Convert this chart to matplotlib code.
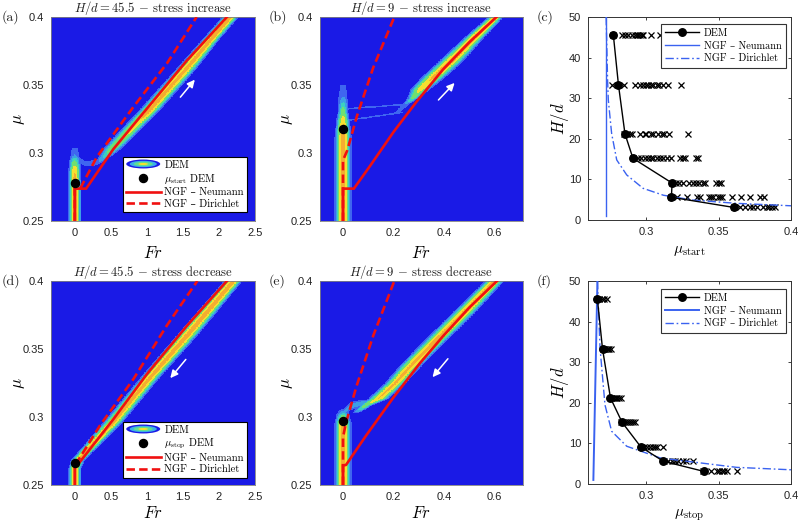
import numpy as np
import matplotlib
matplotlib.use("Agg")
import matplotlib.pyplot as plt
from matplotlib.colors import ListedColormap, BoundaryNorm
from matplotlib.legend_handler import HandlerBase
from matplotlib.lines import Line2D
from matplotlib.patches import Ellipse

plt.rcParams['mathtext.fontset'] = 'cm'
plt.rcParams['font.family'] = ['Liberation Sans', 'DejaVu Sans']
SERIF = ['cmr10', 'DejaVu Serif']
W, H = 800, 523

# ---- density colours
level_edges = [0, 0.07, 0.14, 0.24, 0.36, 0.6, 0.85, 1.1]
level_colors = ['#1a1ae6', '#3f66f0', '#3c9fe6', '#3cd0c0', '#70e070', '#f5e030', '#f5ac30']

# ---- panel (a), H/d = 45.5 up
a_neu_fr = [0, 0, 0.157, 0.537, 1.0, 1.555, 2.11]
a_neu_mu = [0.25, 0.2738, 0.2738, 0.303, 0.3326, 0.368, 0.4]
a_dir_fr = [0, 0, 0.074, 0.305, 0.815, 1.28, 1.69]
a_dir_mu = [0.25, 0.2738, 0.2738, 0.297, 0.334, 0.366, 0.4]
a_band_mu = [0.25, 0.28, 0.288, 0.294, 0.298, 0.304]
a_band_amp = [1.0, 1.0, 0.8, 0.4, 0.15, 0.1]
a_band_w = [0.056, 0.056, 0.056, 0.058, 0.065, 0.065]
a_ridge_mu = [0.293, 0.298, 0.303, 0.331, 0.362, 0.383, 0.4]
a_ridge_fr = [0.33, 0.43, 0.52, 1.03, 1.55, 1.88, 2.16]
a_ridge_w = [0.05, 0.075, 0.092, 0.092, 0.088, 0.075, 0.072]
a_ridge_amp = [0.12, 0.3, 0.5, 0.95, 0.95, 1.0, 1.0]
a_link_fr = [0.03, 0.15, 0.3, 0.42]
a_link_mu = [0.296, 0.292, 0.293, 0.296]
a_point = (0.0, 0.278)

# ---- panel (b), H/d = 9 up
b_neu_fr = [0, 0, 0.043, 0.107, 0.2, 0.29, 0.396, 0.5, 0.607]
b_neu_mu = [0.25, 0.2738, 0.2738, 0.2905, 0.3155, 0.3375, 0.3615, 0.3815, 0.4]
b_dir_fr = [0, 0, 0.017, 0.054, 0.12, 0.203]
b_dir_mu = [0.25, 0.2946, 0.302, 0.3265, 0.363, 0.4]
b_band_mu = [0.25, 0.31, 0.322, 0.33, 0.337, 0.342, 0.35]
b_band_amp = [1.0, 1.0, 0.85, 0.5, 0.25, 0.12, 0.1]
b_band_w = [0.021, 0.021, 0.018, 0.015, 0.017, 0.021, 0.02]
b_ridge_mu = [0.329, 0.336, 0.34, 0.347, 0.356, 0.367, 0.385, 0.399, 0.405]
b_ridge_fr = [0.21, 0.25, 0.275, 0.307, 0.36, 0.425, 0.52, 0.60, 0.64]
b_ridge_w = [0.015, 0.015, 0.016, 0.026, 0.03, 0.03, 0.025, 0.02, 0.02]
b_ridge_amp = [0.1, 0.14, 0.4, 0.75, 0.9, 1.0, 0.95, 0.9, 0.9]
b_link1_fr = [0.017, 0.25]
b_link1_mu = [0.3326, 0.3358]
b_link2_fr = [0.017, 0.238]
b_link2_mu = [0.324, 0.330]
b_point = (0.0, 0.318)

# ---- panel (d), H/d = 45.5 down
d_neu_fr = [0, 0, 0.05, 0.537, 1.0, 1.555, 2.11]
d_neu_mu = [0.25, 0.2655, 0.2655, 0.2985, 0.3315, 0.367, 0.4]
d_dir_fr = [0, 0.03, 0.35, 0.815, 1.28, 1.70]
d_dir_mu = [0.2655, 0.2667, 0.2938, 0.328, 0.3675, 0.4]
d_ridge_mu = [0.25, 0.262, 0.268, 0.296, 0.328, 0.36, 0.4]
d_ridge_fr = [0, 0, 0.04, 0.53, 1.03, 1.56, 2.2]
d_ridge_w = [0.056, 0.056, 0.06, 0.085, 0.085, 0.09, 0.08]
d_ridge_amp = [1.0, 1.0, 0.95, 0.95, 0.95, 1.0, 1.0]
d_point = (0.0, 0.2665)

# ---- panel (e), H/d = 9 down
e_neu_fr = [0, 0, 0.012, 0.093, 0.2, 0.304, 0.396, 0.5, 0.609]
e_neu_mu = [0.25, 0.2643, 0.2648, 0.2868, 0.3145, 0.3395, 0.3595, 0.3805, 0.4]
e_dir_fr = [0, 0, 0.012, 0.054, 0.12, 0.203]
e_dir_mu = [0.25, 0.285, 0.296, 0.323, 0.36, 0.4]
e_band_mu = [0.25, 0.295, 0.299, 0.303, 0.307]
e_band_amp = [1.0, 0.95, 0.6, 0.22, 0.0]
e_band_w = [0.021, 0.021, 0.02, 0.021, 0.02]
e_ridge_mu = [0.303, 0.3085, 0.3134, 0.3245, 0.338, 0.355, 0.377, 0.399, 0.405]
e_ridge_fr = [0.05, 0.09, 0.14, 0.205, 0.27, 0.36, 0.48, 0.595, 0.63]
e_ridge_w = [0.016, 0.018, 0.026, 0.026, 0.028, 0.028, 0.028, 0.024, 0.024]
e_ridge_amp = [0.12, 0.5, 0.85, 0.9, 0.9, 0.95, 0.95, 0.95, 0.95]
e_link_fr = [0.005, 0.03, 0.06, 0.1]
e_link_mu = [0.3035, 0.308, 0.3095, 0.31]
e_point = (-0.002, 0.2967)

# ---- panel (c), mu_start vs H/d
heights = [45.5, 33.3, 21.2, 15.2, 9.1, 5.6, 3.1]
c_dem = [0.2775, 0.281, 0.2855, 0.291, 0.318, 0.3175, 0.3605]
c_neu_mu = [0.2725, 0.2725]
c_neu_h = [1, 50]
c_dir_mu = [0.2725, 0.2735, 0.274, 0.2763, 0.2798, 0.2867, 0.298, 0.312, 0.3326, 0.3625, 0.4]
c_dir_h = [50, 34.5, 29.6, 21.3, 14.8, 11.1, 7.8, 6.1, 4.9, 4.1, 3.5]
c_runs = [
    [0.2775, 0.2833, 0.2856, 0.2879, 0.2901, 0.2924, 0.2936, 0.2947, 0.2959, 0.297, 0.2982, 0.3032, 0.3097],
    [0.2764, 0.281, 0.2851, 0.2924, 0.2959, 0.2982, 0.3, 0.3016, 0.3032, 0.3051, 0.3074, 0.3092, 0.312, 0.3154, 0.3239],
    [0.2851, 0.287, 0.2893, 0.2905, 0.2958, 0.299, 0.3, 0.3032, 0.3051, 0.3085, 0.3108, 0.3124, 0.3161, 0.3290],
    [0.291, 0.2945, 0.2968, 0.2991, 0.3014, 0.3037, 0.3051, 0.3074, 0.3097, 0.312, 0.3143, 0.317, 0.3235, 0.3253, 0.3269, 0.3345, 0.3361],
    [0.318, 0.3207, 0.323, 0.3257, 0.3299, 0.3322, 0.3345, 0.3368, 0.3391, 0.341, 0.3483, 0.3506, 0.3517],
    [0.3175, 0.3214, 0.3283, 0.3352, 0.3375, 0.3432, 0.3448, 0.3462, 0.3495, 0.3513, 0.3524, 0.3591, 0.3653, 0.3718, 0.3786, 0.3814],
    [0.3605, 0.3648, 0.3683, 0.3718, 0.3741, 0.3768, 0.381, 0.3832, 0.3851, 0.3867, 0.389],
]

# ---- panel (f), mu_stop vs H/d
f_dem = [0.2665, 0.27, 0.2755, 0.2835, 0.2965, 0.312, 0.34]
f_neu_mu = [0.2637, 0.2665]
f_neu_h = [1, 50]
f_dir_mu = [0.2665, 0.2683, 0.2717, 0.2763, 0.2867, 0.31, 0.3625, 0.4]
f_dir_h = [50, 33.5, 19.5, 13, 9.3, 6.4, 4.1, 3.5]
f_runs = [
    [0.2660, 0.2678, 0.2694, 0.271, 0.2733],
    [0.2701, 0.271, 0.2719, 0.2729, 0.2738, 0.2747, 0.2756],
    [0.2756, 0.2768, 0.2779, 0.2791, 0.2802, 0.2814, 0.2825],
    [0.2825, 0.2839, 0.2853, 0.2867, 0.2880, 0.2894, 0.2908, 0.2922],
    [0.2963, 0.2986, 0.3005, 0.3028, 0.3046, 0.3062, 0.3078, 0.3120],
    [0.3124, 0.3154, 0.3177, 0.32, 0.3223, 0.3257, 0.3276, 0.3326],
    [0.3395, 0.3446, 0.3487, 0.3506, 0.3522, 0.3538, 0.3556, 0.3630],
]

BLUE = '#3a62f0'


def make_ax(x0, x1, y0, y1):
    return plt.gcf().add_axes([x0 / W, 1 - y1 / H, (x1 - x0) / W, (y1 - y0) / H])


def along_mu(fr, mu, pts_mu, pts_fr, pts_w, pts_amp):
    # ridge running up in mu, gaussian across in Fr
    c = np.interp(mu, pts_mu, pts_fr)
    w = np.interp(mu, pts_mu, pts_w)
    a = np.interp(mu, pts_mu, pts_amp, left=0, right=pts_amp[-1])
    a = np.where(mu > pts_mu[-1], 0 if pts_amp[-1] < 0.5 else a, a)
    return a * np.exp(-((fr - c) / w) ** 2)


def along_fr(fr, mu, pts_fr, pts_mu, w, amp):
    # thin faint bridge running across in Fr, gaussian in mu
    c = np.interp(fr, pts_fr, pts_mu)
    a = np.interp(fr, pts_fr, [amp] * len(pts_fr), left=0, right=0)
    return a * np.exp(-((mu - c) / w) ** 2)


class HandlerBlob(HandlerBase):
    def create_artists(self, legend, orig, xd, yd, width, height, fontsize, trans):
        out = []
        sizes = [(1.25, 1.05, '#1a1ae6'), (1.0, 0.75, '#3cb0e6'), (0.7, 0.5, '#60e090'), (0.35, 0.25, '#f5e030')]
        for sx, sy, col in sizes:
            out.append(Ellipse((width / 2 - xd, height / 2 - yd), width * sx * 0.78, height * sy * 1.15,
                               facecolor=col, edgecolor='none', transform=trans))
        return out


def density_panel(ax, xlim, xticks, field_fn, neu, dirich, point, title, arrow, xpad):
    fr = np.linspace(xlim[0], xlim[1], 500)
    mu = np.linspace(0.25, 0.4, 500)
    FR, MU = np.meshgrid(fr, mu)
    Z = field_fn(FR, MU)
    ax.set_facecolor(level_colors[0])
    cmap = ListedColormap(level_colors)
    norm = BoundaryNorm(level_edges, cmap.N)
    ax.pcolormesh(FR, MU, Z, cmap=cmap, norm=norm, shading='auto', rasterized=True)
    ax.plot(neu[0], neu[1], color='#f01010', lw=1.9, solid_joinstyle='miter', zorder=3)
    ax.plot(dirich[0], dirich[1], color='#f01010', lw=1.9, dashes=(3.2, 1.6), zorder=3)
    ax.plot([point[0]], [point[1]], 'o', color='k', ms=5.8, zorder=4)
    ax.annotate('', xy=arrow[1], xytext=arrow[0],
                arrowprops=dict(arrowstyle='-|>,head_width=0.22,head_length=0.45', color='white', lw=1.1), zorder=5)
    ax.set_xlim(xlim)
    ax.set_ylim(0.25, 0.4)
    ax.set_xticks(xticks)
    ax.set_xticklabels([('%g' % t) for t in xticks])
    ax.set_yticks([0.25, 0.3, 0.35, 0.4])
    ax.set_yticklabels(['0.25', '0.3', '0.35', '0.4'])
    ax.tick_params(labelsize=8, length=0, pad=5, colors='#222222')
    for s in ax.spines.values():
        s.set_color('#808080')
        s.set_linewidth(0.6)
    ax.set_xlabel(r'$Fr$', fontsize=12, labelpad=xpad)
    ax.set_ylabel(r'$\mu$', fontsize=12, labelpad=-3)
    ax.set_title(title, fontsize=9.1, family=SERIF, pad=3.5, color='#222222')


def curve_panel(ax, dem, runs, neu, dirich, xname, neu_lw, legend_top):
    for h, r in zip(heights, runs):
        ax.plot(r, [h] * len(r), 'x', color='k', ms=4.4, mew=0.9, zorder=2)
    ax.plot(neu[0], neu[1], color=BLUE, lw=neu_lw, zorder=3, label='NGF – Neumann')
    ax.plot(dirich[0], dirich[1], color=BLUE, lw=1.0, ls=(0, (6, 2, 1.2, 2)), zorder=3, label='NGF – Dirichlet')
    ax.plot(dem, heights, '-o', color='k', lw=1.0, ms=5.4, zorder=4, label='DEM')
    ax.set_xlim(0.26, 0.4)
    ax.set_ylim(0, 50)
    ax.set_xticks([0.3, 0.35, 0.4])
    ax.set_xticklabels(['0.3', '0.35', '0.4'])
    ax.set_yticks([0, 10, 20, 30, 40, 50])
    ax.tick_params(labelsize=8, direction='in', length=2, width=0.6, top=True, right=True, pad=5, colors='#222222')
    for s in ax.spines.values():
        s.set_color('#333333')
        s.set_linewidth(0.7)
    ax.set_xlabel(xname, fontsize=11, labelpad=5)
    ax.set_ylabel(r'$H/d$', fontsize=12, labelpad=-2)
    hs, ls = ax.get_legend_handles_labels()
    order = [2, 0, 1]
    x1 = (786 - 588) / 203
    y1 = 1 - legend_top / 203
    leg = ax.legend([hs[i] for i in order], [ls[i] for i in order], loc='upper right', bbox_to_anchor=(x1, y1),
                    borderaxespad=0, fancybox=False, framealpha=1, edgecolor='#333333',
                    prop={'family': SERIF, 'size': 7.4}, handlelength=3.3, labelspacing=0.33,
                    borderpad=0.4, handletextpad=0.5)
    leg.get_frame().set_linewidth(0.8)
    leg.set_zorder(6)


def density_legend(ax, name, legend_top):
    handles = [Ellipse((0, 0), 1, 1),
               Line2D([], [], marker='o', color='k', ls='none', ms=5.8),
               Line2D([], [], color='#f01010', lw=1.9),
               Line2D([], [], color='#f01010', lw=1.9, dashes=(3.2, 1.6))]
    labels = ['DEM', name + ' DEM', 'NGF – Neumann', 'NGF – Dirichlet']
    leg = ax.legend(handles, labels, loc='upper right', bbox_to_anchor=((247 - 51) / 204, 1 - legend_top / 204),
                    borderaxespad=0, fancybox=False, framealpha=1, edgecolor='k',
                    prop={'family': SERIF, 'size': 7.6}, handlelength=3.3, labelspacing=0.2,
                    borderpad=0.3, handletextpad=0.35, handler_map={Ellipse: HandlerBlob()})
    leg.get_frame().set_linewidth(0.8)
    leg.set_zorder(6)


def field_a(fr, mu):
    return np.maximum.reduce([
        along_mu(fr, mu, a_band_mu, [0] * 6, a_band_w, a_band_amp),
        along_mu(fr, mu, a_ridge_mu, a_ridge_fr, a_ridge_w, a_ridge_amp),
        along_fr(fr, mu, a_link_fr, a_link_mu, 0.0025, 0.13)])


def field_b(fr, mu):
    return np.maximum.reduce([
        along_mu(fr, mu, b_band_mu, [0] * 7, b_band_w, b_band_amp),
        along_mu(fr, mu, b_ridge_mu, b_ridge_fr, b_ridge_w, b_ridge_amp),
        along_fr(fr, mu, b_link1_fr, b_link1_mu, 0.0009, 0.11),
        along_fr(fr, mu, b_link2_fr, b_link2_mu, 0.0009, 0.11)])


def field_d(fr, mu):
    return along_mu(fr, mu, d_ridge_mu, d_ridge_fr, d_ridge_w, d_ridge_amp)


def field_e(fr, mu):
    return np.maximum.reduce([
        along_mu(fr, mu, e_band_mu, [0] * 5, e_band_w, e_band_amp),
        along_mu(fr, mu, e_ridge_mu, e_ridge_fr, e_ridge_w, e_ridge_amp),
        along_fr(fr, mu, e_link_fr, e_link_mu, 0.0028, 0.2)])


fig = plt.figure(figsize=(W / 100, H / 100), dpi=100)

fr_ticks_wide = [0, 0.5, 1, 1.5, 2, 2.5]
fr_ticks_narrow = [0, 0.2, 0.4, 0.6]

ax = make_ax(51, 255, 17, 221)
density_panel(ax, (-0.33, 2.5), fr_ticks_wide, field_a, (a_neu_fr, a_neu_mu), (a_dir_fr, a_dir_mu), a_point,
              r'$H/d=45.5$ $-$ stress increase', ((1.44, 0.3395), (1.69, 0.3555)), 5)
density_legend(ax, r'$\mu_{\mathrm{start}}$', 157 - 17)

ax = make_ax(319.5, 523, 17, 221)
density_panel(ax, (-0.093, 0.712), fr_ticks_narrow, field_b, (b_neu_fr, b_neu_mu), (b_dir_fr, b_dir_mu), b_point,
              r'$H/d=9$ $-$ stress increase', ((0.37, 0.3375), (0.449, 0.353)), 5)

ax = make_ax(588, 791, 17, 220)
curve_panel(ax, c_dem, c_runs, (c_neu_mu, c_neu_h), (c_dir_mu, c_dir_h), r'$\mu_{\mathrm{start}}$', 1.0, 24 - 17)

ax = make_ax(51, 255, 281, 485)
density_panel(ax, (-0.33, 2.5), fr_ticks_wide, field_d, (d_neu_fr, d_neu_mu), (d_dir_fr, d_dir_mu), d_point,
              r'$H/d=45.5$ $-$ stress decrease', ((1.565, 0.3439), (1.30, 0.327)), 2)
density_legend(ax, r'$\mu_{\mathrm{stop}}$', 422 - 281)

ax = make_ax(319.5, 523, 281, 485)
density_panel(ax, (-0.093, 0.712), fr_ticks_narrow, field_e, (e_neu_fr, e_neu_mu), (e_dir_fr, e_dir_mu), e_point,
              r'$H/d=9$ $-$ stress decrease', ((0.422, 0.3444), (0.347, 0.3277)), 2)

ax = make_ax(588, 791, 281, 484)
curve_panel(ax, f_dem, f_runs, (f_neu_mu, f_neu_h), (f_dir_mu, f_dir_h), r'$\mu_{\mathrm{stop}}$', 1.4, 289 - 281)

for txt, x, y in [('(a)', 2, 17), ('(b)', 269, 17), ('(c)', 537, 17), ('(d)', 2, 281), ('(e)', 269, 281), ('(f)', 537, 281)]:
    fig.text(x / W, 1 - y / H, txt, fontsize=10, family=SERIF, va='center', ha='left', color='#222222')

fig.savefig('out.png', dpi=100)
